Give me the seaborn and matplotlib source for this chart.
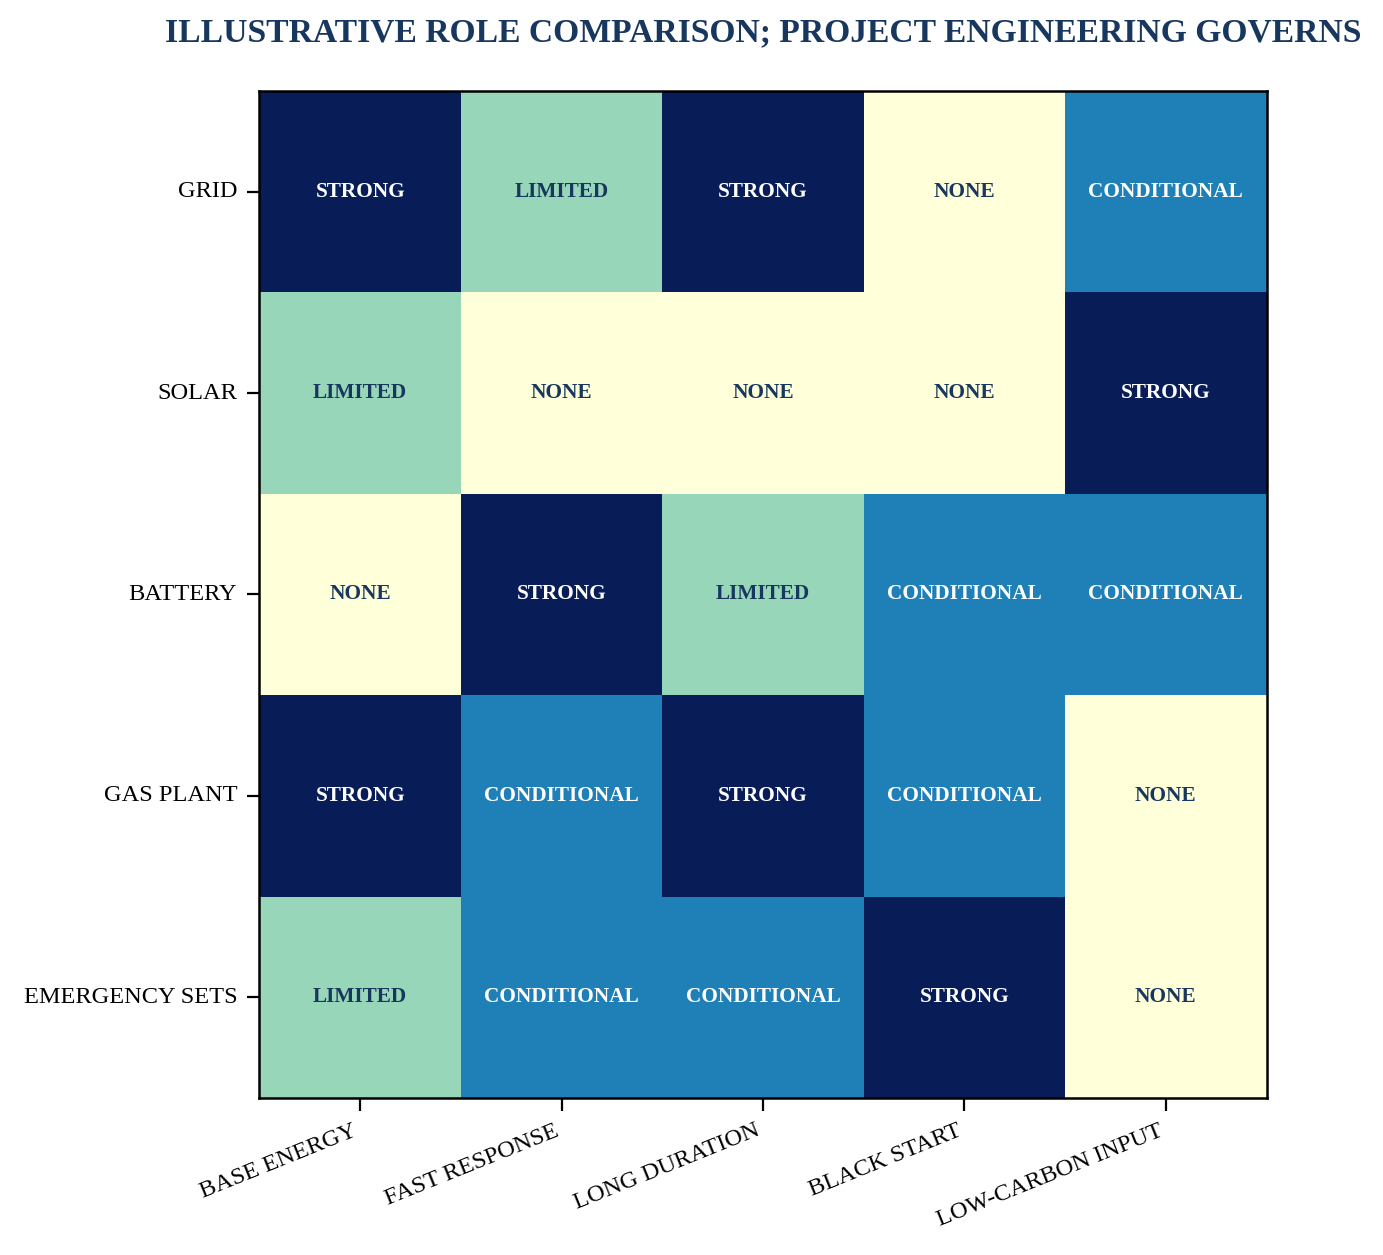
import numpy as np
import pandas as pd
import matplotlib
matplotlib.use("Agg")
import matplotlib.pyplot as plt
import seaborn as sns

sns.set_style("white")
plt.rcParams['font.family'] = ['Liberation Serif', 'DejaVu Serif']
plt.rcParams['text.color'] = 'black'
plt.rcParams['xtick.color'] = 'black'
plt.rcParams['ytick.color'] = 'black'

assets = ["GRID", "SOLAR", "BATTERY", "GAS PLANT", "EMERGENCY SETS"]
roles = ["BASE ENERGY", "FAST RESPONSE", "LONG DURATION", "BLACK START", "LOW-CARBON INPUT"]
levels = ["NONE", "LIMITED", "CONDITIONAL", "STRONG"]

grid_roles = ["STRONG", "LIMITED", "STRONG", "NONE", "CONDITIONAL"]
solar_roles = ["LIMITED", "NONE", "NONE", "NONE", "STRONG"]
battery_roles = ["NONE", "STRONG", "LIMITED", "CONDITIONAL", "CONDITIONAL"]
gas_roles = ["STRONG", "CONDITIONAL", "STRONG", "CONDITIONAL", "NONE"]
emergency_roles = ["LIMITED", "CONDITIONAL", "CONDITIONAL", "STRONG", "NONE"]

labels = pd.DataFrame([grid_roles, solar_roles, battery_roles, gas_roles, emergency_roles],
                      index=assets, columns=roles)
scores = labels.apply(lambda col: col.map(levels.index))

fig = plt.figure(figsize=(6.915, 6.275), dpi=200)
ax = fig.add_axes([0.1866, 0.1251, 0.7302, 0.8024])
sns.heatmap(scores, ax=ax, cmap="YlGnBu", vmin=0, vmax=3, cbar=False,
            square=True, linewidths=0)

navy = "#17375e"
for i in range(len(assets)):
    for j in range(len(roles)):
        v = scores.iloc[i, j]
        ax.text(j + 0.5, i + 0.5, labels.iloc[i, j], ha="center", va="center",
                fontsize=7.65, fontweight="bold",
                color="white" if v >= 2 else navy)

for s in ax.spines.values():
    s.set_visible(True)
    s.set_color("black")
    s.set_linewidth(0.9)

ax.tick_params(axis="both", which="major", length=4.5, width=0.8, color="black",
               bottom=True, left=True, labelsize=8.8, labelcolor="black")
ax.set_xticklabels(roles, rotation=22, ha="right")
ax.set_yticklabels(assets, rotation=0)
ax.set_xlabel("")
ax.set_ylabel("")
ax.set_title("ILLUSTRATIVE ROLE COMPARISON; PROJECT ENGINEERING GOVERNS",
             fontsize=12.1, fontweight="bold", color=navy, pad=18)

fig.savefig("out.png", dpi=200)
